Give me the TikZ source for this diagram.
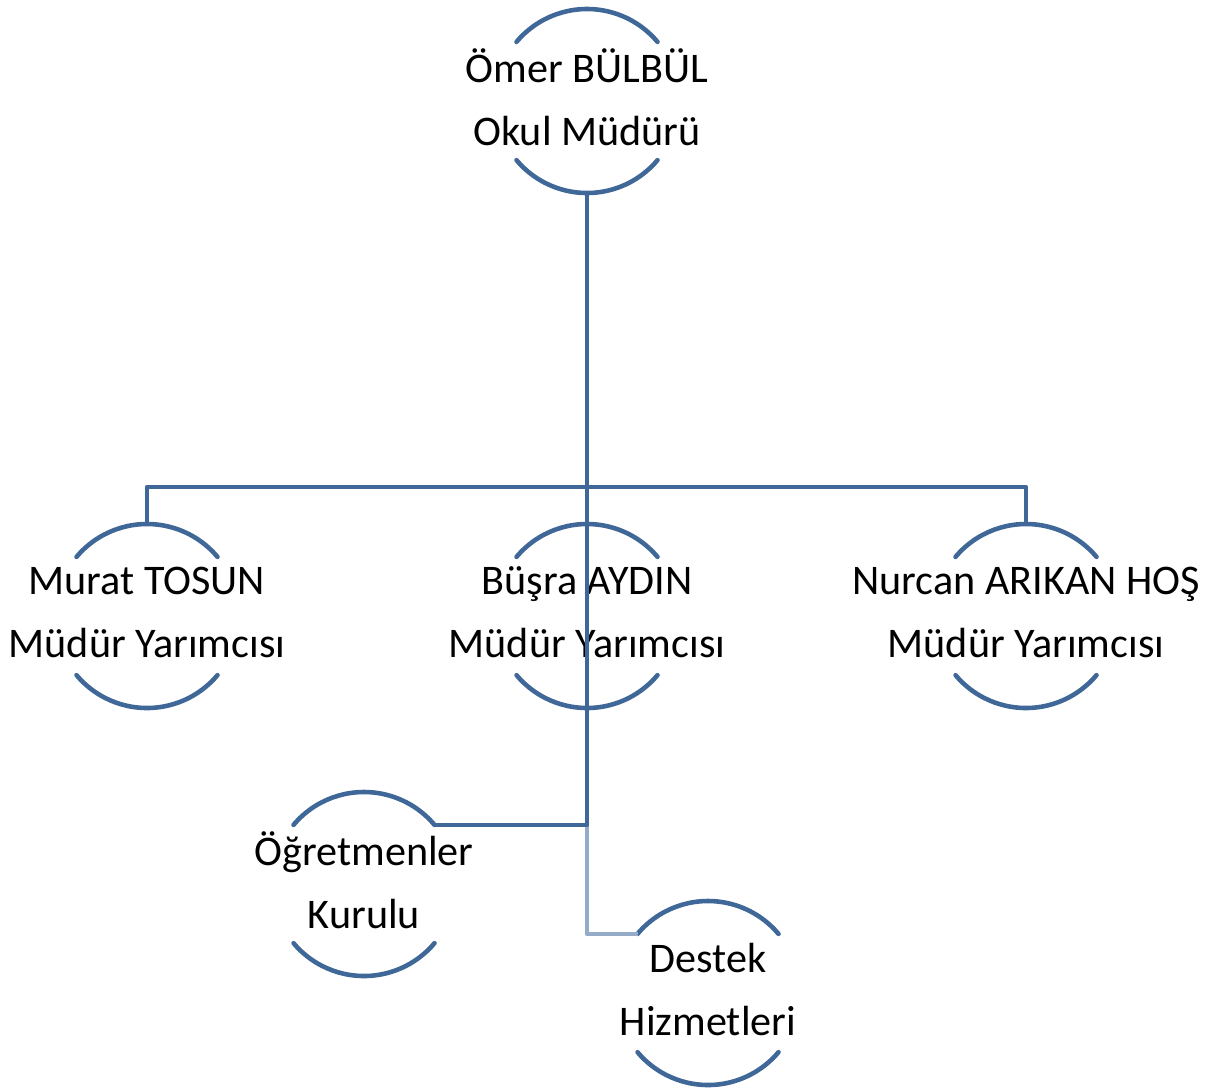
\documentclass[tikz,border=0pt]{standalone}
\usepackage{fontspec}
\setmainfont{Carlito}
\usepackage{xcolor}
\usetikzlibrary{positioning}

\definecolor{chartblue}{HTML}{3F6797}
\definecolor{chartlight}{HTML}{95ACC8}

\begin{document}
\begin{tikzpicture}[
    person/.style={circle, minimum size=3.68cm, inner sep=0pt, outer sep=0pt},
    tag/.style={font=\fontsize{24}{36}\selectfont, align=center, yshift=2pt},
    arcline/.style={chartblue, line width=2.6pt, line cap=round},
    link/.style={chartblue, line width=2.6pt, line join=round},
    lightlink/.style={chartlight, line width=2.6pt, line join=round}
  ]
    \useasboundingbox (0,0) rectangle (24.54,-21.78);

    % Nodes: circles with only top and bottom arcs
    \node[person, label={[tag]center:Ömer BÜLBÜL\\Okul Müdürü}] (mudur) at (11.74,-2.02) {};
    \node[person, label={[tag]center:Murat TOSUN\\Müdür Yarımcısı}] (murat) at (2.94,-12.32) {};
    \node[person, label={[tag]center:Büşra AYDIN\\Müdür Yarımcısı}] (busra) at (11.74,-12.32) {};
    \node[person, label={[tag]center:Nurcan ARIKAN HOŞ\\Müdür Yarımcısı}] (nurcan) at (20.52,-12.32) {};
    \node[person, label={[tag]center:Öğretmenler\\Kurulu}] (ogretmen) at (7.28,-17.68) {};
    \node[person, label={[tag]center:Destek\\Hizmetleri}] (destek) at (14.16,-19.86) {};

    \foreach \n in {mudur,murat,busra,nurcan,ogretmen,destek} {
      \draw[arcline] (\n.140) arc[start angle=140, end angle=40, radius=1.84cm];
      \draw[arcline] (\n.220) arc[start angle=220, end angle=320, radius=1.84cm];
    }

    % Connectors
    \coordinate (bus) at (0,-9.74);
    \draw[link] (murat.north) |- (nurcan.north |- bus) -- (nurcan.north);
    \draw[lightlink] (mudur.south |- ogretmen.40) |- (destek.140);
    \draw[link] (mudur.south) -- (mudur.south |- ogretmen.40) -- (ogretmen.40);
  \end{tikzpicture}
\end{document}
